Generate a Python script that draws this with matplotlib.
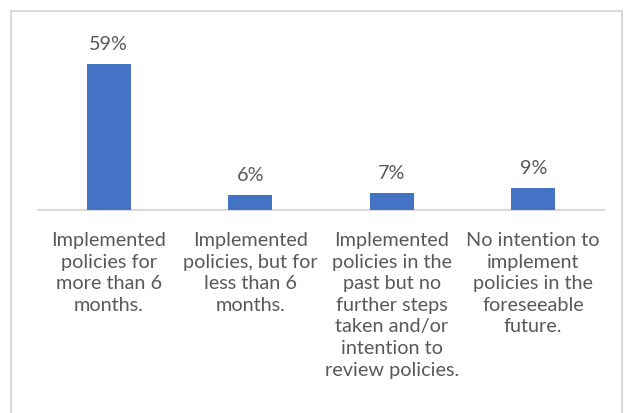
import matplotlib
matplotlib.use("Agg")
import matplotlib.pyplot as plt
from matplotlib.patches import Rectangle

categories = [
    "Implemented\npolicies for\nmore than 6\nmonths.",
    "Implemented\npolicies, but for\nless than 6\nmonths.",
    "Implemented\npolicies in the\npast but no\nfurther steps\ntaken and/or\nintention to\nreview policies.",
    "No intention to\nimplement\npolicies in the\nforeseeable\nfuture.",
]
values = [59, 6, 7, 9]
value_labels = ["59%", "6%", "7%", "9%"]

W, H = 631, 413
fig = plt.figure(figsize=(W / 100, H / 100), dpi=100)
fig.patch.set_facecolor("white")

# outer border
fig.patches.append(Rectangle((11 / W, -0.01), (W - 9) / W - 11 / W, 1 - 11 / H + 0.01,
                             transform=fig.transFigure, fill=False, edgecolor="#D9D9D9", linewidth=1.5))

left, right = 38 / W, 604 / W
bottom = (H - 210) / H
top = (H - 40) / H
ax = fig.add_axes([left, bottom, right - left, top - bottom])
ax.set_facecolor("none")

x = list(range(len(values)))
ax.bar(x, values, width=0.31, color="#4472C4", zorder=3)
ax.set_xlim(-0.5, len(values) - 0.5)
ax.set_ylim(0, 170 / 2.475)

for s in ["top", "right", "left"]:
    ax.spines[s].set_visible(False)
ax.spines["bottom"].set_color("#D9D9D9")
ax.spines["bottom"].set_linewidth(1.5)
ax.set_yticks([])
ax.set_xticks([])

font = "Lato"
txtcol = "#595959"
fs = 14.3
for xi, v, lab in zip(x, values, value_labels):
    ax.annotate(lab, (xi, v), xytext=(0, 11), textcoords="offset pixels",
                ha="center", va="bottom", fontsize=fs, color=txtcol, family=font)

for xi, cat in zip(x, categories):
    ax.annotate(cat, (xi, 0), xytext=(0, -22), textcoords="offset pixels",
                ha="center", va="top", fontsize=fs, color=txtcol, family=font,
                linespacing=1.33)

fig.savefig("out.png", dpi=100, facecolor="white")
